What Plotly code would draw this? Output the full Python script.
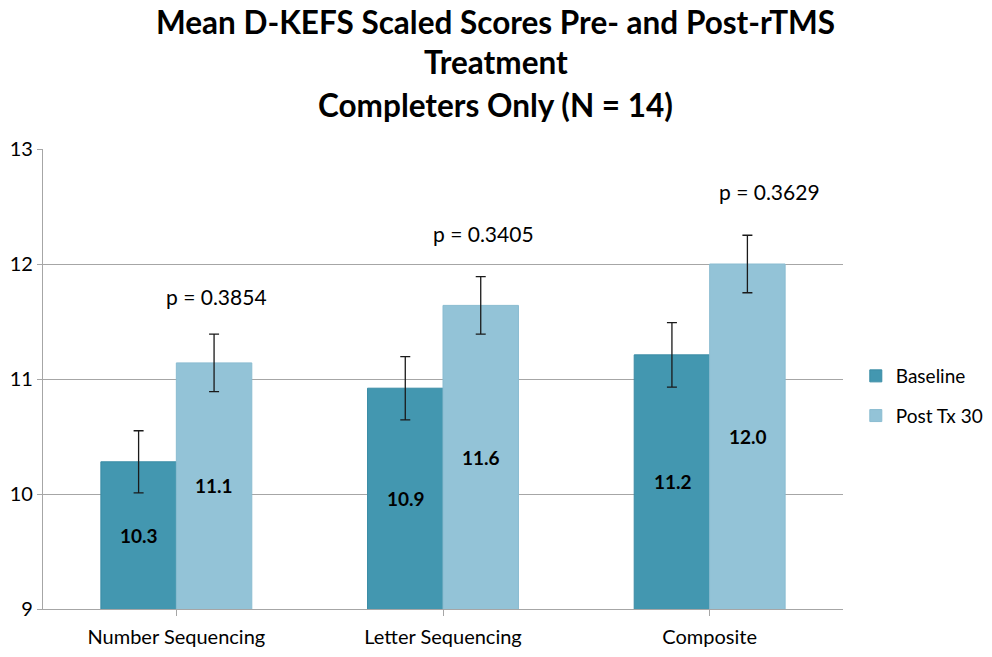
import plotly.graph_objects as go

tests = ["Number Sequencing", "Letter Sequencing", "Composite"]
baseline = [10.28, 10.92, 11.21]
baseline_err = [0.27, 0.275, 0.28]
post_tx = [11.14, 11.64, 12.0]
post_err = [0.25, 0.25, 0.25]
p_values = ["p = 0.3854", "p = 0.3405", "p = 0.3629"]

title_lines = ["Mean D-KEFS Scaled Scores Pre- and Post-rTMS", "Treatment", "Completers Only (N = 14)"]

y_min, y_max = 9, 13
font_name = "Lato"

# label placement (pixels) for the p-values, as in the original
p_xshift = [40, 40, 60]
p_yshift = [38, 43, 44]

fig = go.Figure()
fig.add_trace(go.Bar(
    x=tests, y=baseline, name="Baseline", legendgroup="a",
    marker=dict(color="#4397B0", line=dict(color="#3A8CA5", width=1)),
    error_y=dict(type="data", array=baseline_err, color="#1a1a1a", thickness=1.3, width=5),
))
fig.add_trace(go.Bar(
    x=tests, y=post_tx, name="Post Tx 30", legendgroup="b",
    marker=dict(color="#93C3D7", line=dict(color="#8ABCD1", width=1)),
    error_y=dict(type="data", array=post_err, color="#1a1a1a", thickness=1.3, width=5),
))

# value labels in the middle of the visible part of each bar
for vals, dx in ((baseline, -37), (post_tx, 38)):
    for t, v in zip(tests, vals):
        fig.add_annotation(x=t, y=(v + y_min) / 2, text=f"<b>{v:.1f}</b>", showarrow=False,
                           xshift=dx, font=dict(family=font_name, size=19, color="black"))

for t, v, e, p, dx, dy in zip(tests, post_tx, post_err, p_values, p_xshift, p_yshift):
    fig.add_annotation(x=t, y=v + e, text=p, showarrow=False, xshift=dx, yshift=dy,
                       yanchor="middle", font=dict(family=font_name, size=21, color="black"))

# title, one annotation per line
for line, ty in zip(title_lines, [1.277, 1.189, 1.096]):
    fig.add_annotation(text=f"<b>{line}</b>", xref="paper", yref="paper", x=0.566, y=ty,
                       xanchor="center", yanchor="middle", showarrow=False,
                       font=dict(family=font_name, size=31.5, color="black"))

fig.update_layout(
    width=992, height=657,
    paper_bgcolor="white", plot_bgcolor="white",
    margin=dict(l=43, r=149, t=149, b=48, autoexpand=False),
    barmode="group", bargap=0.434, bargroupgap=0,
    legend=dict(x=1.016, xanchor="left", y=0.463, yanchor="middle", tracegroupgap=12,
                traceorder="grouped", font=dict(family=font_name, size=19, color="black")),
    font=dict(family=font_name, color="black"),
)
fig.update_yaxes(range=[y_min, y_max], dtick=1, showgrid=True, gridcolor="#A6A6A6", gridwidth=1.2,
                 showline=True, linecolor="#A6A6A6", linewidth=1.2, ticks="outside", ticklen=5,
                 tickcolor="#A6A6A6", tickfont=dict(family=font_name, size=20, color="black"),
                 zeroline=False, automargin=False)
fig.update_xaxes(showline=True, linecolor="#A6A6A6", linewidth=1.2, ticks="outside", ticklen=6,
                 tickcolor="#A6A6A6", tickfont=dict(family=font_name, size=20, color="black"),
                 ticklabelstandoff=4, automargin=False)

# drop the browser's default body margin so the figure fills the window
fig.write_html("out.html", config={"displayModeBar": False},
               post_script="document.body.style.margin='0';")
